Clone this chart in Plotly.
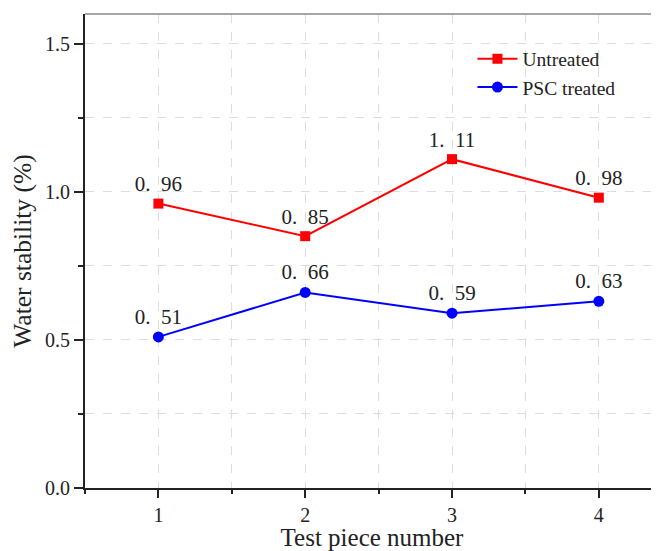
import plotly.graph_objects as go

pieces = [1, 2, 3, 4]
untreated = [0.96, 0.85, 1.11, 0.98]
psc_treated = [0.51, 0.66, 0.59, 0.63]
series_names = ["Untreated", "PSC treated"]

def fmt(vals):
    return [f"{v:.2f}".replace(".", ".\u2002") for v in vals]

serif = "Liberation Serif, Times New Roman, serif"

fig = go.Figure()
fig.add_trace(go.Scatter(
    x=pieces, y=untreated, name=series_names[0], mode="lines+markers+text",
    line=dict(color="#ff0000", width=2),
    marker=dict(symbol="square", size=10, color="#ff0000"),
    text=fmt(untreated), textposition="top center",
    textfont=dict(family=serif, size=21, color="#222222"),
))
fig.add_trace(go.Scatter(
    x=pieces, y=psc_treated, name=series_names[1], mode="lines+markers+text",
    line=dict(color="#0000ff", width=2),
    marker=dict(symbol="circle", size=11, color="#0000ff"),
    text=fmt(psc_treated), textposition="top center",
    textfont=dict(family=serif, size=21, color="#222222"),
))

grid = dict(showgrid=True, gridcolor="#dddddd", griddash="dash", gridwidth=1)

fig.update_layout(
    width=651, height=543,
    margin=dict(l=77, r=0, t=6, b=63),
    plot_bgcolor="white", paper_bgcolor="white",
    font=dict(family=serif, color="#222222"),
    showlegend=True,
    legend=dict(x=0.675, y=0.946, xanchor="left", yanchor="top",
                bgcolor="rgba(0,0,0,0)", font=dict(family=serif, size=19.5),
                itemwidth=40, tracegroupgap=0),
    xaxis=dict(
        range=[0.5, 4.41], tickmode="linear", tick0=1, dtick=1,
        ticks="outside", ticklen=8, tickwidth=2, tickcolor="#222222",
        showline=True, linecolor="#222222", linewidth=2,
        tickfont=dict(family=serif, size=20),
        title=dict(text="Test piece number", font=dict(family=serif, size=25), standoff=6),
        zeroline=False,
        minor=dict(dtick=0.5, tick0=0.5, ticks="outside", ticklen=4, tickwidth=2,
                   tickcolor="#222222", **grid),
        **grid,
    ),
    yaxis=dict(
        range=[0, 1.6], tickmode="linear", tick0=0, dtick=0.5, tickformat=".1f",
        ticks="outside", ticklen=9, tickwidth=2, tickcolor="#222222",
        showline=True, linecolor="#222222", linewidth=2,
        tickfont=dict(family=serif, size=20),
        title=dict(text="Water stability (%)", font=dict(family=serif, size=25.5), standoff=6),
        zeroline=False,
        minor=dict(dtick=0.25, tick0=0, ticks="outside", ticklen=5, tickwidth=2,
                   tickcolor="#222222", **grid),
        **grid,
    ),
)

fig.add_shape(type="line", xref="paper", yref="paper", x0=0, x1=1, y0=1, y1=1,
              line=dict(color="#888888", width=1.5))

fig.write_html("out.html")
